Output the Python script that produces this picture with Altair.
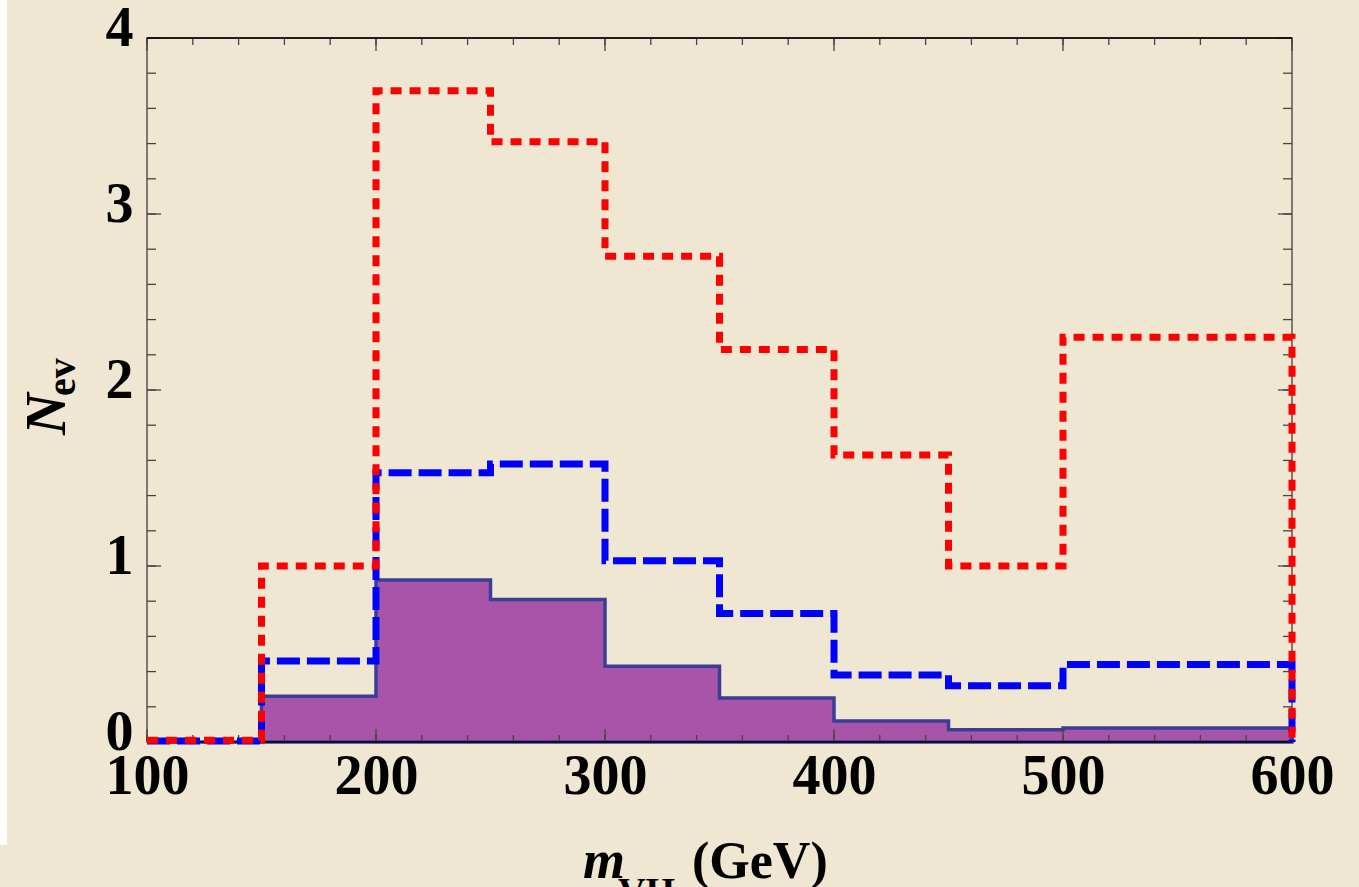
import altair as alt
import pandas as pd

# ---- data ----
bin_edges = [100, 150, 200, 250, 300, 350, 400, 450, 500, 550, 600]
red_vals = [0.01, 1.00, 3.70, 3.41, 2.76, 2.23, 1.63, 1.00, 2.30, 2.30]
blue_vals = [0.005, 0.46, 1.53, 1.58, 1.03, 0.73, 0.38, 0.32, 0.44, 0.44]
purple_vals = [0.0, 0.26, 0.92, 0.81, 0.43, 0.25, 0.12, 0.07, 0.08, 0.08]

x_tick_labels = [100, 200, 300, 400, 500, 600]
y_tick_labels = [0, 1, 2, 3, 4]
x_minor = [100, 120, 140, 160, 180, 200, 220, 240, 260, 280, 300, 320, 340, 360,
           380, 400, 420, 440, 460, 480, 500, 520, 540, 560, 580, 600]
y_minor = [0, 0.2, 0.4, 0.6, 0.8, 1.0, 1.2, 1.4, 1.6, 1.8, 2.0, 2.2, 2.4, 2.6,
           2.8, 3.0, 3.2, 3.4, 3.6, 3.8, 4.0]

W, H = 1145, 704
FONT = "Liberation Serif"


def step_points(vals, close):
    rows = []
    o = 0
    for i, v in enumerate(vals):
        rows.append(dict(x=bin_edges[i], y=v, o=o)); o += 1
        rows.append(dict(x=bin_edges[i + 1], y=v, o=o)); o += 1
    if close:
        rows.append(dict(x=bin_edges[-1], y=0, o=o))
    return pd.DataFrame(rows)


def step_after_points(vals):
    xs_ = list(bin_edges)
    ys_ = list(vals) + [vals[-1]]
    return pd.DataFrame({"x": xs_, "y": ys_})


xs = alt.Scale(domain=[100, 600], nice=False, zero=False)
ys = alt.Scale(domain=[0, 4], nice=False, zero=False)

x_axis = alt.Axis(values=x_tick_labels, format="d", labelFont=FONT, labelFontWeight="bold",
                  labelFontSize=56, labelColor="black", ticks=False, domain=False,
                  grid=False, title=None, labelPadding=7, labelFlush=False)
y_axis = alt.Axis(values=y_tick_labels, format="d", labelFont=FONT, labelFontWeight="bold",
                  labelFontSize=56, labelColor="black", ticks=False, domain=False,
                  grid=False, title=None, labelPadding=14, labelOffset=-10)

purple_df = step_after_points(purple_vals)
red_df = step_points(red_vals, True)
blue_df = step_points(blue_vals, True)

area = alt.Chart(purple_df).mark_area(
    color="#a854a8", stroke="#3a3e96", strokeWidth=3.5, opacity=1, interpolate="step-after"
).encode(
    x=alt.X("x:Q", scale=xs, axis=x_axis),
    y=alt.Y("y:Q", scale=ys, axis=y_axis, stack=None),
)

blue = alt.Chart(blue_df).mark_line(
    color="#0000ff", strokeWidth=7, strokeDash=[23, 7], strokeCap="butt"
).encode(x=alt.X("x:Q", scale=xs), y=alt.Y("y:Q", scale=ys), order="o:Q")

red = alt.Chart(red_df).mark_line(
    color="#ff0000", strokeWidth=7, strokeDash=[11, 8], strokeCap="butt"
).encode(x=alt.X("x:Q", scale=xs), y=alt.Y("y:Q", scale=ys), order="o:Q")

xmin_df = pd.DataFrame({"v": x_minor})
xmaj_df = pd.DataFrame({"v": x_tick_labels})
ymin_df = pd.DataFrame({"v": y_minor})
ymaj_df = pd.DataFrame({"v": y_tick_labels})

TC = "#444444"


def xticks(df, ln):
    b = alt.Chart(df).mark_rule(color=TC, strokeWidth=1.3).encode(
        x=alt.X("v:Q", scale=xs), y=alt.value(H), y2=alt.value(H - ln))
    t = alt.Chart(df).mark_rule(color=TC, strokeWidth=1.3).encode(
        x=alt.X("v:Q", scale=xs), y=alt.value(0), y2=alt.value(ln))
    return b + t


def yticks(df, ln):
    l = alt.Chart(df).mark_rule(color=TC, strokeWidth=1.3).encode(
        y=alt.Y("v:Q", scale=ys), x=alt.value(0), x2=alt.value(ln))
    r = alt.Chart(df).mark_rule(color=TC, strokeWidth=1.3).encode(
        y=alt.Y("v:Q", scale=ys), x=alt.value(W), x2=alt.value(W - ln))
    return l + r


ticks = xticks(xmin_df, 7) + xticks(xmaj_df, 13) + yticks(ymin_df, 9) + yticks(ymaj_df, 14)

one = pd.DataFrame({"a": [0]})
frame_top = alt.Chart(one).mark_rule(color="black", strokeWidth=1.5).encode(
    x=alt.value(0), x2=alt.value(W), y=alt.value(0))
frame_bot = alt.Chart(one).mark_rule(color="black", strokeWidth=1.5).encode(
    x=alt.value(0), x2=alt.value(W), y=alt.value(H))

white_strip = alt.Chart(one).mark_rect(color="white").encode(
    x=alt.value(-147), x2=alt.value(-140), y=alt.value(-38), y2=alt.value(807))

t_m = alt.Chart(one).mark_text(text="m", font=FONT, fontStyle="italic", fontWeight="bold",
                               fontSize=54, align="left", baseline="alphabetic",
                               color="black").encode(x=alt.value(436), y=alt.value(840))
t_vh = alt.Chart(one).mark_text(text="VH", font=FONT, fontWeight="bold",
                                fontSize=38, align="left", baseline="alphabetic",
                                color="black").encode(x=alt.value(471), y=alt.value(866))
t_gev = alt.Chart(one).mark_text(text="(GeV)", font=FONT, fontWeight="bold",
                                 fontSize=52, align="left", baseline="alphabetic",
                                 color="black").encode(x=alt.value(545), y=alt.value(840))
t_n = alt.Chart(one).mark_text(text="N", font=FONT, fontStyle="italic", fontWeight="bold",
                               fontSize=58, align="left", baseline="alphabetic",
                               color="black").encode(x=alt.value(-82), y=alt.value(397),
                                                     angle=alt.value(270))
t_ev = alt.Chart(one).mark_text(text="ev", font=FONT, fontWeight="bold",
                                fontSize=40, align="left", baseline="alphabetic",
                                color="black").encode(x=alt.value(-72), y=alt.value(358),
                                                      angle=alt.value(270))

chart = alt.layer(
    white_strip, area, ticks, frame_top, frame_bot, blue, red,
    t_m, t_vh, t_gev, t_n, t_ev
).properties(
    width=W, height=H,
    autosize=alt.AutoSizeParams(type="none"),
    padding={"left": 147, "top": 38, "right": 67, "bottom": 145},
    background="#efe7d2",
).configure_view(
    stroke="#555555", strokeWidth=1.5, fill=None
)

chart.save("out.html", embed_options={"renderer": "svg", "actions": False})
